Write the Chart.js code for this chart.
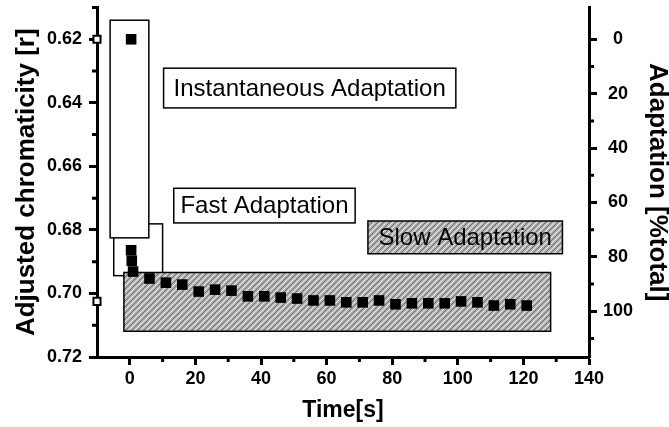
<!DOCTYPE html>
<html>
<head>
<meta charset="utf-8">
<script src="https://cdn.jsdelivr.net/npm/chart.js@4/dist/chart.umd.min.js"></script>
<style>
html, body { margin: 0; padding: 0; background: #fff; }
</style>
</head>
<body>
<canvas id="adaptChart" width="669" height="427"></canvas>
<script>
// measured points: time [s] and adjusted chromaticity r
const times = [0.4, 0.4, 0.6, 1.0, 6, 11, 16, 21, 26, 31, 36, 41, 46, 51, 56, 61, 66, 71, 76, 81, 86, 91, 96, 101, 106, 111, 116, 121];
const chroma = [0.620, 0.6864, 0.6897, 0.6931, 0.6953, 0.6966, 0.6972, 0.6994, 0.6988, 0.6991, 0.7009, 0.7009, 0.7013, 0.7016, 0.7022, 0.7022, 0.7028, 0.7028, 0.7022, 0.7034, 0.7031, 0.7031, 0.7031, 0.7025, 0.7028, 0.7038, 0.7034, 0.7038];

// open reference markers on the left axis (start / full adaptation)
const refTimes = [-10, -10];
const refChroma = [0.620, 0.7025];

// tick values
const xTicks = [0, 20, 40, 60, 80, 100, 120, 140];
const xMinor = [10, 30, 50, 70, 90, 110, 130];
const yTicks = [0.62, 0.64, 0.66, 0.68, 0.70, 0.72];
const yMinor = [0.61, 0.63, 0.65, 0.67, 0.69, 0.71];
const adaptTicks = [0, 20, 40, 60, 80, 100];
const adaptMinor = [10, 30, 50, 70, 90, 110];

// phase regions (data units: time, chromaticity)
const phaseNames = ['fast', 'instantaneous', 'slow'];
const phaseT0 = [-4.9, -6.0, -1.8];
const phaseT1 = [10.0, 5.8, 128.3];
const phaseR0 = [0.6781, 0.6140, 0.6934];
const phaseR1 = [0.6944, 0.6825, 0.7119];

// label boxes
const labelTexts = ['Instantaneous Adaptation', 'Fast Adaptation', 'Slow Adaptation'];
const labelT0 = [10.3, 13.4, 72.6];
const labelT1 = [99.4, 68.7, 131.9];
const labelR0 = [0.6291, 0.6669, 0.6772];
const labelR1 = [0.6416, 0.6778, 0.6875];
const labelHatched = [false, false, true];

const FONT = "'Liberation Sans', Arial, sans-serif";

const canvas = document.getElementById('adaptChart');
const ctx = canvas.getContext('2d');

function makeHatch() {
    const c = document.createElement('canvas');
    c.width = 6; c.height = 6;
    const g = c.getContext('2d');
    g.fillStyle = '#b2b2b2';
    g.fillRect(0, 0, 6, 6);
    g.lineWidth = 1;
    g.strokeStyle = '#6c6c6c';
    g.beginPath();
    g.moveTo(-1, 7); g.lineTo(7, -1);
    g.stroke();
    g.strokeStyle = '#e8e8e8';
    g.beginPath();
    g.moveTo(-1, 4); g.lineTo(4, -1);
    g.moveTo(2, 7); g.lineTo(7, 2);
    g.stroke();
    return ctx.createPattern(c, 'repeat');
}
const hatch = makeHatch();

function rectOf(x, y, t0, t1, r0, r1) {
    const l = x.getPixelForValue(t0), r = x.getPixelForValue(t1);
    const t = y.getPixelForValue(r0), b = y.getPixelForValue(r1);
    return [l, t, r - l, b - t];
}

const boxesPlugin = {
    id: 'boxes',
    beforeDatasetsDraw(chart) {
        const c = chart.ctx;
        const x = chart.scales.x, y = chart.scales.y;
        c.save();
        c.strokeStyle = '#000';
        c.lineWidth = 1.5;
        phaseNames.forEach((name, i) => {
            const [l, t, w, h] = rectOf(x, y, phaseT0[i], phaseT1[i], phaseR0[i], phaseR1[i]);
            c.fillStyle = name === 'slow' ? hatch : '#fff';
            c.fillRect(l, t, w, h);
            c.strokeRect(l, t, w, h);
        });
        labelTexts.forEach((txt, i) => {
            const [l, t, w, h] = rectOf(x, y, labelT0[i], labelT1[i], labelR0[i], labelR1[i]);
            c.fillStyle = labelHatched[i] ? hatch : '#fff';
            c.fillRect(l, t, w, h);
            c.strokeRect(l, t, w, h);
            c.fillStyle = '#000';
            c.font = '24px ' + FONT;
            c.textAlign = 'center';
            c.textBaseline = 'middle';
            c.fillText(txt, l + w / 2, t + h / 2 + 1);
        });
        c.restore();
    },
    afterDraw(chart) {
        // minor ticks, shorter than the major ones
        const c = chart.ctx;
        const {x, y, y2} = chart.scales;
        const area = chart.chartArea;
        c.save();
        c.strokeStyle = '#000';
        c.lineWidth = 3;
        c.beginPath();
        xMinor.forEach(v => {
            const p = x.getPixelForValue(v);
            c.moveTo(p, area.bottom); c.lineTo(p, area.bottom + 5);
        });
        yMinor.forEach(v => {
            const p = y.getPixelForValue(v);
            c.moveTo(area.left, p); c.lineTo(area.left - 5, p);
        });
        adaptMinor.forEach(v => {
            const p = y2.getPixelForValue(v);
            c.moveTo(area.right, p); c.lineTo(area.right + 5, p);
        });
        c.stroke();
        c.restore();
    }
};

const tickFont = { family: FONT, size: 18, weight: 'bold' };
const axisGrid = { drawOnChartArea: false, drawTicks: true, tickLength: 8, tickWidth: 3, tickColor: '#000' };
const axisBorder = { display: true, width: 3, color: '#000' };

function noPad(s) {
    s.paddingTop = 0; s.paddingBottom = 0;
    s.paddingLeft = 0; s.paddingRight = 0;
}

const adaptChart = new Chart(ctx, {
    type: 'scatter',
    data: {
        datasets: [{
            label: 'Adjusted chromaticity',
            data: times.map((t, i) => ({ x: t, y: chroma[i] })),
            pointStyle: 'rect',
            pointRadius: 7.5,
            backgroundColor: '#000',
            borderWidth: 0,
            clip: false
        }, {
            label: 'Reference',
            data: refTimes.map((t, i) => ({ x: t, y: refChroma[i] })),
            pointStyle: 'rect',
            pointRadius: 5,
            backgroundColor: '#fff',
            borderColor: '#000',
            borderWidth: 2,
            clip: false
        }]
    },
    options: {
        responsive: false,
        animation: false,
        layout: { padding: { top: 3, left: 0, right: 0, bottom: 0 } },
        plugins: {
            legend: { display: false },
            tooltip: { enabled: false }
        },
        scales: {
            x: {
                type: 'linear',
                min: -10,
                max: 140,
                afterBuildTicks: s => { s.ticks = xTicks.map(v => ({ value: v })); },
                afterFit: s => { s.height = 70; noPad(s); },
                ticks: { color: '#000', font: tickFont, padding: 3, maxRotation: 0 },
                grid: axisGrid,
                border: axisBorder,
                title: {
                    display: true,
                    text: 'Time[s]',
                    color: '#000',
                    font: { family: FONT, size: 23, weight: 'bold', lineHeight: 1.2 },
                    padding: { top: 0, bottom: 3 }
                }
            },
            y: {
                type: 'linear',
                position: 'left',
                reverse: true,
                min: 0.61,
                max: 0.72,
                afterBuildTicks: s => { s.ticks = yTicks.map(v => ({ value: v })); },
                afterFit: s => { s.width = 97; noPad(s); },
                ticks: { color: '#000', font: tickFont, padding: 7, callback: v => v.toFixed(2) },
                grid: axisGrid,
                border: axisBorder,
                title: {
                    display: true,
                    text: 'Adjusted chromaticity [r]',
                    color: '#000',
                    font: { family: FONT, size: 26, weight: 'bold', lineHeight: 1.2 },
                    padding: { top: 11, bottom: 0 }
                }
            },
            y2: {
                type: 'linear',
                position: 'right',
                reverse: true,
                min: -11.7,
                max: 116.8,
                afterBuildTicks: s => { s.ticks = adaptTicks.map(v => ({ value: v })); },
                afterFit: s => { s.width = 80; noPad(s); },
                ticks: { color: '#000', font: tickFont, padding: 6, crossAlign: 'center' },
                grid: axisGrid,
                border: axisBorder,
                title: {
                    display: true,
                    text: 'Adaptation [%total]',
                    color: '#000',
                    font: { family: FONT, size: 26, weight: 'bold', lineHeight: 0.8 },
                    padding: { top: 1, bottom: 0 }
                }
            }
        }
    },
    plugins: [boxesPlugin]
});
</script>
</body>
</html>
